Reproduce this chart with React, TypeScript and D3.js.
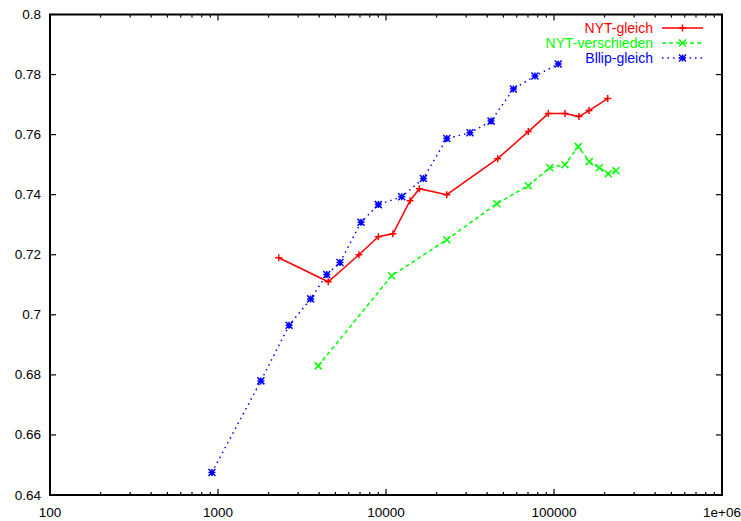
import React from "react"
import * as d3 from "d3"

// values
const nytGleichX = [2300, 4530, 6900, 9000, 11000, 13900, 15800, 23000, 46200, 70300, 92500, 116200, 140800, 161600, 208700]
const nytGleichY = [0.719, 0.711, 0.72, 0.726, 0.727, 0.738, 0.742, 0.74, 0.752, 0.761, 0.767, 0.767, 0.766, 0.768, 0.772]

const nytVerschX = [3950, 10800, 23000, 45600, 70300, 94300, 116200, 139500, 162200, 186100, 210400, 233900]
const nytVerschY = [0.683, 0.713, 0.725, 0.737, 0.743, 0.749, 0.75, 0.756, 0.751, 0.749, 0.747, 0.748]

const bllipX = [920, 1800, 2650, 3560, 4440, 5320, 7100, 9000, 12400, 16700, 23000, 31600, 42200, 57300, 77000, 106000]
const bllipY = [0.6475, 0.678, 0.6965, 0.7053, 0.7134, 0.7174, 0.7308, 0.7367, 0.7393, 0.7454, 0.7587, 0.7606, 0.7645, 0.7752, 0.7795, 0.7835]

const xTickLabels = ["100", "1000", "10000", "100000", "1e+06"]
const xTickValues = [100, 1000, 10000, 100000, 1000000]
const yTickValues = [0.64, 0.66, 0.68, 0.7, 0.72, 0.74, 0.76, 0.78, 0.8]

const seriesNames = ["NYT-gleich", "NYT-verschieden", "Bllip-gleich"]

const W = 741, H = 521
const left = 50, right = 722, top = 14.5, bottom = 495

export default function App() {
  const x = d3.scaleLog().domain([100, 1000000]).range([left, right])
  const y = d3.scaleLinear().domain([0.64, 0.8]).range([bottom, top])

  const series = [
    {name: seriesNames[0], xs: nytGleichX, ys: nytGleichY, color: "#ff0000", dash: "none", mark: "plus"},
    {name: seriesNames[1], xs: nytVerschX, ys: nytVerschY, color: "#00ff00", dash: "4,3", mark: "cross"},
    {name: seriesNames[2], xs: bllipX, ys: bllipY, color: "#0000ff", dash: "1.5,4", mark: "star"},
  ]

  const line = d3.line<[number, number]>().x(d => x(d[0])).y(d => y(d[1]))

  // minor log ticks 2..9 in each decade
  const minor: number[] = []
  xTickValues.slice(0, -1).forEach(d => {
    d3.range(2, 10).forEach(m => minor.push(d * m))
  })

  const marker = (kind: string, cx: number, cy: number, color: string, key: string) => {
    const s = 3.5
    const plus = `M${cx - s},${cy}H${cx + s}M${cx},${cy - s}V${cy + s}`
    const cross = `M${cx - s},${cy - s}L${cx + s},${cy + s}M${cx - s},${cy + s}L${cx + s},${cy - s}`
    const dPath = kind === "plus" ? plus : kind === "cross" ? cross : plus + cross
    return <path key={key} d={dPath} stroke={color} strokeWidth={1.5} fill="none" />
  }

  const font = "'Liberation Sans', Arial, sans-serif"

  return (
    <div style={{position: "absolute", left: 0, top: 0}}>
      <svg width={W} height={H} style={{display: "block", background: "#fff"}}>
        {/* ticks */}
        <g stroke="#000" strokeWidth={1.2}>
          {xTickValues.map(t => (
            <g key={"xt" + t}>
              <line x1={x(t)} x2={x(t)} y1={bottom} y2={bottom - 6} />
              <line x1={x(t)} x2={x(t)} y1={top} y2={top + 6} />
            </g>
          ))}
          {minor.map(t => (
            <g key={"xm" + t}>
              <line x1={x(t)} x2={x(t)} y1={bottom} y2={bottom - 3} />
              <line x1={x(t)} x2={x(t)} y1={top} y2={top + 3} />
            </g>
          ))}
          {yTickValues.map(t => (
            <g key={"yt" + t}>
              <line x1={left} x2={left + 6} y1={y(t)} y2={y(t)} />
              <line x1={right} x2={right - 6} y1={y(t)} y2={y(t)} />
            </g>
          ))}
        </g>
        <rect x={left} y={top} width={right - left} height={bottom - top} fill="none" stroke="#000" strokeWidth={2} />

        {/* tick labels */}
        <g fontFamily={font} fontSize={13.5} fill="#000">
          {xTickValues.map((t, i) => (
            <text key={"xl" + t} x={x(t)} y={bottom + 22} textAnchor="middle">{xTickLabels[i]}</text>
          ))}
          {yTickValues.map(t => (
            <text key={"yl" + t} x={left - 9} y={y(t) + 4.5} textAnchor="end">{d3.format("~g")(t)}</text>
          ))}
        </g>

        {/* series */}
        {series.map(s => {
          const pts = s.xs.map((v, i) => [v, s.ys[i]] as [number, number])
          return (
            <g key={s.name}>
              <path d={line(pts) || ""} fill="none" stroke={s.color} strokeWidth={1.5} strokeDasharray={s.dash} />
              {pts.map((p, i) => marker(s.mark, x(p[0]), y(p[1]), s.color, s.name + i))}
            </g>
          )
        })}

        {/* legend */}
        {series.map((s, i) => {
          const ly = 28 + i * 15
          return (
            <g key={"lg" + s.name}>
              <text x={653} y={ly + 5} textAnchor="end" fontFamily={font} fontSize={14} fill={s.color}>{s.name}</text>
              <line x1={662} x2={703} y1={ly} y2={ly} stroke={s.color} strokeWidth={1.5} strokeDasharray={s.dash} />
              {marker(s.mark, 682.5, ly, s.color, "lm" + i)}
            </g>
          )
        })}
      </svg>
    </div>
  )
}
